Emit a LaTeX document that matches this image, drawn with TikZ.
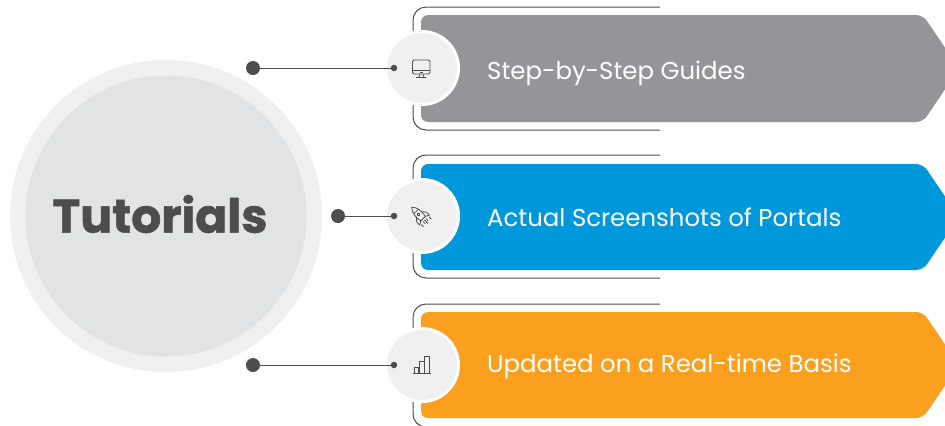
\documentclass[tikz,border=0pt]{standalone}
\usepackage{fontspec}
\setmainfont{Poppins}
\newfontfamily\titlefont{Poppins Bold}[FakeBold=1.2]
\definecolor{ink}{HTML}{4D4D4F}
\definecolor{gbar}{HTML}{939598}
\definecolor{bbar}{HTML}{0098DA}
\definecolor{obar}{HTML}{FAA01E}
\definecolor{ringc}{HTML}{F0F0F1}
\definecolor{corec}{HTML}{E2E3E5}
\tikzset{
  bar/.style={rounded corners=7bp,draw=none},
  bracket/.style={draw=ink,line width=1bp,rounded corners=13bp},
  badge/.style={circle,fill=ringc,draw=white,line width=3bp,minimum size=73bp,inner sep=0pt},
  enddot/.style={circle,fill=ink,inner sep=0pt,minimum size=14bp},
  tipdot/.style={circle,fill=ink,inner sep=0pt,minimum size=6.5bp},
  link/.style={draw=ink,line width=1bp},
  label/.style={text=white,anchor=base west,font=\fontsize{24.5}{28}\selectfont,inner sep=0pt},
  icon/.style={draw=ink,line width=.8bp,line join=round}
}
\begin{document}
\begin{tikzpicture}[x=1bp,y=-1bp]
\useasboundingbox (0,0) rectangle (945,425);
\clip (0,0) rectangle (945,425);
\fill[white] (0,0) rectangle (945,425);
% big circle
\node[circle,fill=ringc,minimum size=312bp,inner sep=0pt] (outer) at (166,216) {};
\node[circle,fill=corec,minimum size=281bp,inner sep=0pt] (core) at (166,216) {};
\node[text=ink,font=\titlefont\fontsize{47.3}{54}\selectfont,inner sep=0pt] (title) at (160,214) {Tutorials};
% brackets
\draw[bracket] (660,7) -- (413,7) -- (413,130) -- (660,130);
\draw[bracket] (660,155) -- (413,155) -- (413,278) -- (660,278);
\draw[bracket] (660,304) -- (413,304) -- (413,427) -- (660,427);
% bars
\fill[gbar,bar,fill=gbar] (421,15) -- (923,15) -- (959,68.5) -- (923,122) -- (421,122) -- cycle;
\fill[bbar,bar] (421,164) -- (923,164) -- (959,217) -- (923,270) -- (421,270) -- cycle;
\fill[obar,bar] (421,312) -- (923,312) -- (959,365) -- (923,418) -- (421,418) -- cycle;
% badges
\node[badge] (b1) at (422,68) {};
\node[badge] (b2) at (422,216) {};
\node[badge] (b3) at (422,365) {};
% connectors
\node[enddot] (s1) at (253,68) {};
\node[enddot] (s2) at (338,216) {};
\node[enddot] (s3) at (253,365) {};
\node[tipdot] (t1) at (394,68) {};
\node[tipdot] (t2) at (394,216) {};
\node[tipdot] (t3) at (394,365) {};
\draw[link] (s1) -- (t1);
\draw[link] (s2) -- (t2);
\draw[link] (s3) -- (t3);
% labels
\node[label] (l1) at (487,79) {Step-by-Step Guides};
\node[label] (l2) at (487,226) {Actual Screenshots of Portals};
\node[label] (l3) at (487,372) {Updated on a Real-time Basis};
% monitor icon
\draw[icon,rounded corners=1.5bp] (412.5,60) rectangle (430,74);
\draw[icon] (412.5,70.5) -- (430,70.5);
\draw[icon] (416,77.5) -- (426,77.5) (419.5,74) -- (419,77.5) (423,74) -- (423.5,77.5);
\draw[icon] (419.5,72.3) -- (423,72.3);
% rocket icon
\begin{scope}[shift={(421,216.5)},rotate=45]
\draw[icon] (0,-13) .. controls (4,-9.5) and (4.5,-3) .. (3.2,3) -- (-3.2,3) .. controls (-4.5,-3) and (-4,-9.5) .. (0,-13) -- cycle;
\draw[icon] (-3.6,-3) -- (-7,1) -- (-7,5) -- (-3.2,3);
\draw[icon] (3.6,-3) -- (7,1) -- (7,5) -- (3.2,3);
\draw[icon] (-3.4,-7) -- (3.4,-7);
\draw[icon] (0,-3.2) circle (1.4);
\draw[icon] (0,5) -- (0,10) (-2,5) -- (-2,8) (2,5) -- (2,8) (-5.5,6) -- (-5.5,9) (5.5,6) -- (5.5,9);
\end{scope}
% bars icon
\draw[icon] (413,373.5) -- (431,373.5);
\draw[icon] (414,373.5) -- (414,367) -- (418.5,367) -- (418.5,373.5);
\draw[icon] (419,373.5) -- (419,361) -- (424,361) -- (424,373.5);
\draw[icon] (424.5,373.5) -- (424.5,356.5) -- (429.5,356.5) -- (429.5,373.5);
\end{tikzpicture}
\end{document}
